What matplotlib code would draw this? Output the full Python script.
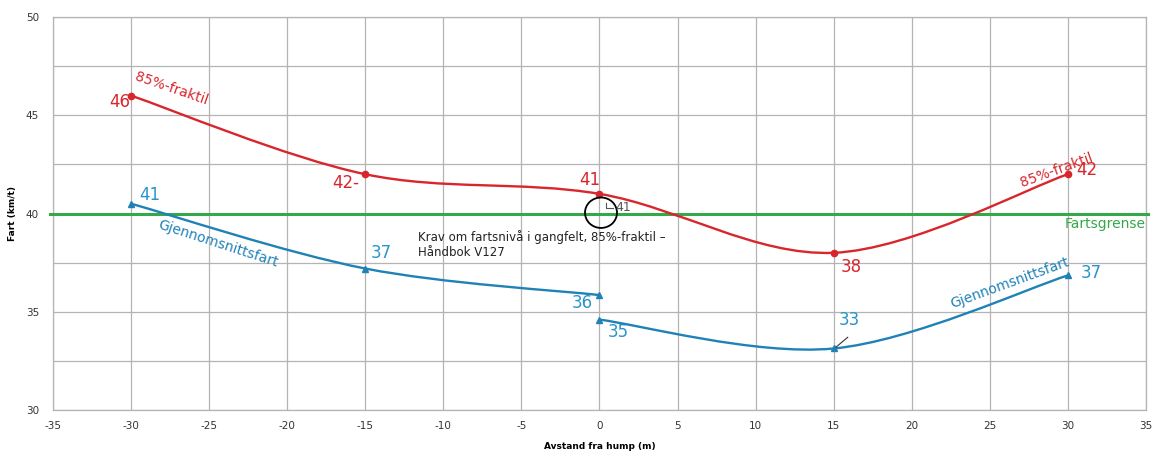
import matplotlib
matplotlib.use("Agg")
import matplotlib.pyplot as plt
from matplotlib.path import Path
from matplotlib.patches import PathPatch, Ellipse

# ---- data ----
x_red = [-30, -15, 0, 15, 30]
y_red = [46.0, 42.0, 41.0, 38.0, 42.0]
red_labels = ["46", "42", "41", "38", "42"]

x_blue_a = [-30, -15, 0]
y_blue_a = [40.5, 37.2, 35.85]
blue_a_labels = ["41", "37", "36"]

x_blue_b = [0, 15, 30]
y_blue_b = [34.6, 33.13, 36.85]
blue_b_labels = ["35", "33", "37"]

speed_limit = 40
x_ticks = [-35, -30, -25, -20, -15, -10, -5, 0, 5, 10, 15, 20, 25, 30, 35]
y_ticks = [30, 35, 40, 45, 50]

RED = "#d8262c"
BLUE = "#1f82b7"
BLUE_TXT = "#2a95c8"
GREEN = "#35a84a"
GRID = "#b4b4b4"

plt.rcParams['font.family'] = ['DejaVu Sans']
plt.rcParams['axes.unicode_minus'] = False


def smooth_path(xs, ys):
    pts = list(zip(xs, ys))
    n = len(pts)
    verts = [pts[0]]
    codes = [Path.MOVETO]
    for i in range(n - 1):
        p0 = pts[i - 1] if i > 0 else pts[i]
        p1 = pts[i]
        p2 = pts[i + 1]
        p3 = pts[i + 2] if i + 2 < n else pts[i + 1]
        c1 = (p1[0] + (p2[0] - p0[0]) / 6.0, p1[1] + (p2[1] - p0[1]) / 6.0)
        c2 = (p2[0] - (p3[0] - p1[0]) / 6.0, p2[1] - (p3[1] - p1[1]) / 6.0)
        verts += [c1, c2, p2]
        codes += [Path.CURVE4] * 3
    return Path(verts, codes)


fig = plt.figure(figsize=(11.56, 4.55), dpi=100)
ax = fig.add_axes([0.0458, 0.0989, 0.9455, 0.8637])
ax.set_xlim(-35, 35)
ax.set_ylim(30, 50)

ax.set_xticks(x_ticks)
ax.set_yticks(y_ticks)
ax.set_yticks([32.5, 37.5, 42.5, 47.5], minor=True)
ax.grid(True, which='both', color=GRID, lw=0.9)
ax.set_axisbelow(True)
for s in ax.spines.values():
    s.set_color(GRID)
    s.set_linewidth(0.9)
ax.tick_params(which='both', length=0, labelsize=7.5, colors='#333333', pad=8)
ax.tick_params(axis='y', pad=10)

# speed limit line
ax.plot([-35.2, 35.1], [speed_limit, speed_limit], color=GREEN, lw=2.2,
        clip_on=False, zorder=3)

# series
for xs, ys, col, mk in [(x_red, y_red, RED, 'o'),
                        (x_blue_a, y_blue_a, BLUE, '^'),
                        (x_blue_b, y_blue_b, BLUE, '^')]:
    ax.add_patch(PathPatch(smooth_path(xs, ys), fill=False, edgecolor=col,
                           lw=1.7, zorder=4))
    ax.plot(xs, ys, ls='none', marker=mk, ms=4.5, color=col, zorder=5)

# value labels (red)
fs = 12
ax.text(-30.05, 45.67, red_labels[0], color=RED, fontsize=fs, ha='right', va='center')
ax.text(-15.4, 41.55, red_labels[1] + "-", color=RED, fontsize=fs, ha='right', va='center')
ax.text(-0.6, 41.7, red_labels[2], color=RED, fontsize=fs, ha='center', va='center')
ax.text(16.1, 37.29, red_labels[3], color=RED, fontsize=fs, ha='center', va='center')
ax.text(31.2, 42.2, red_labels[4], color=RED, fontsize=fs, ha='center', va='center')

# value labels (blue)
ax.text(-28.8, 40.94, blue_a_labels[0], color=BLUE_TXT, fontsize=fs, ha='center', va='center')
ax.text(-14.0, 37.98, blue_a_labels[1], color=BLUE_TXT, fontsize=fs, ha='center', va='center')
ax.text(-1.1, 35.44, blue_a_labels[2], color=BLUE_TXT, fontsize=fs, ha='center', va='center')
ax.text(1.2, 33.96, blue_b_labels[0], color=BLUE_TXT, fontsize=fs, ha='center', va='center')
ax.text(16.0, 34.57, blue_b_labels[1], color=BLUE_TXT, fontsize=fs, ha='center', va='center')
ax.text(31.5, 36.97, blue_b_labels[2], color=BLUE_TXT, fontsize=fs, ha='center', va='center')
ax.plot([15.15, 15.9], [33.2, 33.7], color='#333333', lw=0.8, zorder=6)

# series names
ax.text(-27.4, 46.33, "85%-fraktil", color=RED, fontsize=10, rotation=-19,
        ha='center', va='center', rotation_mode='anchor')
ax.text(29.3, 42.2, "85%-fraktil", color=RED, fontsize=10, rotation=20,
        ha='center', va='center', rotation_mode='anchor')
ax.text(-24.4, 38.44, "Gjennomsnittsfart", color=BLUE, fontsize=10, rotation=-18,
        ha='center', va='center', rotation_mode='anchor')
ax.text(26.3, 36.46, "Gjennomsnittsfart", color=BLUE, fontsize=10, rotation=20,
        ha='center', va='center', rotation_mode='anchor')
ax.text(35.0, 39.46, "Fartsgrense", color=GREEN, fontsize=10, ha='right',
        va='center', clip_on=False)

# requirement marker
ax.add_patch(Ellipse((0.1, 40.04), 2.05, 1.55, fill=False, edgecolor='black',
                     lw=1.3, zorder=6))
ax.plot([0.45, 0.45, 0.9], [40.55, 40.3, 40.3], color='#555555', lw=0.8, zorder=6)
ax.text(1.5, 40.32, "41", color='#555555', fontsize=9, ha='center', va='center', zorder=6)
ax.text(-11.6, 38.8, "Krav om fartsnivå i gangfelt, 85%-fraktil –",
        color='#222222', fontsize=8.5, ha='left', va='center')
ax.text(-11.6, 38.04, "Håndbok V127", color='#222222', fontsize=8.5,
        ha='left', va='center')

ax.set_xlabel("Avstand fra hump (m)", fontsize=6.5, fontweight='bold', labelpad=8)
ax.set_ylabel("Fart (km/t)", fontsize=6.5, fontweight='bold', labelpad=6)

fig.savefig("out.png", dpi=100)
